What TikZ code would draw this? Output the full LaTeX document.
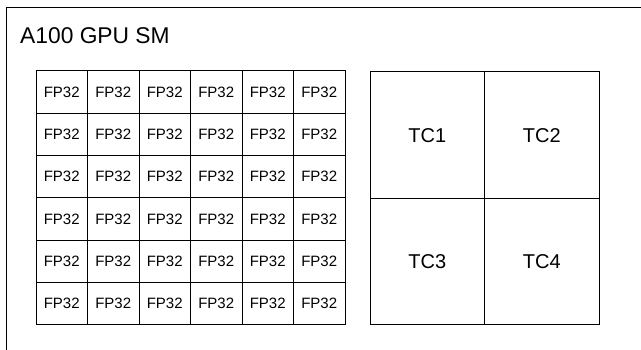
\documentclass[tikz,border=0pt]{standalone}
\usepackage{fontspec}
\setmainfont{Liberation Sans}
\begin{document}
\begin{tikzpicture}[x=1pt,y=-1pt,
  fpcell/.style={draw=black,line width=1pt,minimum width=51.5pt,minimum height=42.3pt,inner sep=0pt,font=\fontsize{15}{17}\selectfont},
  tccell/.style={draw=black,line width=1pt,minimum width=114.5pt,minimum height=126.5pt,inner sep=0pt,font=\fontsize{20}{22}\selectfont},
  frame/.style={draw=black,line width=1pt}]
\useasboundingbox (0,0) rectangle (641,350);
\begin{scope}
\clip (0,0) rectangle (641,350);
\draw[frame] (6,360) -- (6,8) -- (660,8);
\end{scope}
\node[anchor=base west,inner sep=0pt,font=\fontsize{22.8}{25}\selectfont] (title) at (20,44) {A100 GPU SM};
\foreach \i in {0,...,5}{
  \foreach \j in {0,...,5}{
    \node[fpcell] (c-\i-\j) at ({36+51.5*(\j+0.5)},{71+42.3*(\i+0.5)}) {FP32};
  }
}
\node[tccell] (tc1) at ({370+114.5*0.5},{72+126.5*0.5}) {TC1};
\node[tccell] (tc2) at ({370+114.5*1.5},{72+126.5*0.5}) {TC2};
\node[tccell] (tc3) at ({370+114.5*0.5},{72+126.5*1.5}) {TC3};
\node[tccell] (tc4) at ({370+114.5*1.5},{72+126.5*1.5}) {TC4};
\end{tikzpicture}
\end{document}
